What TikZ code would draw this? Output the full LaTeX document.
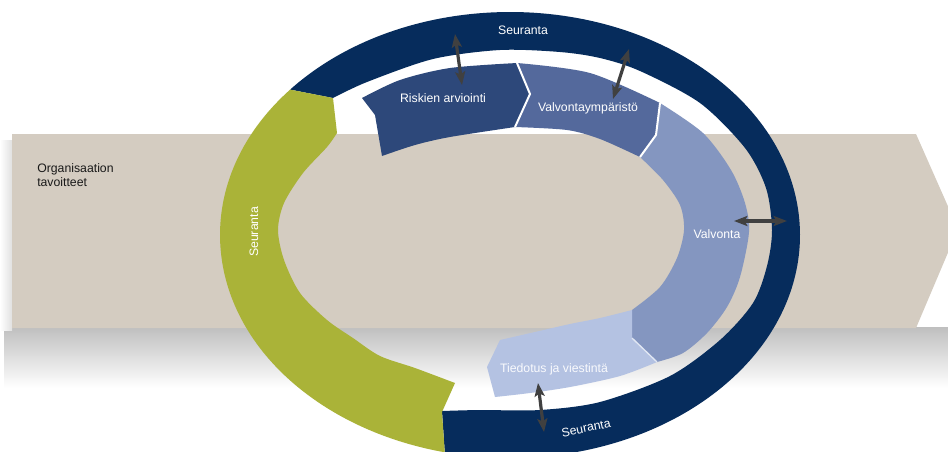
\documentclass[tikz,border=0pt]{standalone}
\usepackage{fontspec}
\setmainfont{Liberation Sans}
\usetikzlibrary{arrows.meta,calc}
\definecolor{bandc}{RGB}{212,204,193}
\definecolor{navyc}{RGB}{6,44,92}
\definecolor{greenc}{RGB}{170,179,56}
\definecolor{segA}{RGB}{45,72,122}
\definecolor{segB}{RGB}{84,105,156}
\definecolor{segC}{RGB}{132,150,192}
\definecolor{segD}{RGB}{180,194,226}
\definecolor{arrc}{RGB}{64,64,64}
\begin{document}
\begin{tikzpicture}[x=0.75pt,y=-0.75pt,
  lbl/.style={text=white,font=\fontsize{9.2}{11}\selectfont,inner sep=0pt},
  orglbl/.style={text=black!90,font=\fontsize{9.2}{11}\selectfont,inner sep=0pt,align=left,anchor=west},
  sepline/.style={draw=white,line width=1.5pt,line join=miter},
  dblarrow/.style={draw=arrc,line width=2.4pt,{Stealth[length=10pt,width=7.5pt,inset=2pt]}-{Stealth[length=10pt,width=7.5pt,inset=2pt]}}]
\useasboundingbox (0,0) rectangle (948,451);
\clip (0,0) rectangle (948,451);
\fill[white] (0,0) rectangle (948,451);
% shadow of the band
\shade[top color=black!25,bottom color=white] (4,327) rectangle (948,388);
\shade[left color=white,right color=black!12] (0,140) rectangle (12,330);
% band (arrow)
\fill[bandc] (12,134) -- (916,134) -- (958,229) -- (916,328) -- (12,328) -- cycle;
% centre of outer ring
\coordinate (O) at (510,235);
% navy ring
\fill[navyc] ($(O)+(-139.3:290 and 223)$) arc[start angle=-139.3,end angle=103,x radius=290,y radius=223]
  -- (442,411) -- plot[smooth] coordinates {(442,411) (480,410) (540,410) (600,402) (670,376) (720,340) (753,303) (767,266) (772,230) (766,188) (745,148) (700,103) (640,71) (600,58) (560,52) (500,50) (433,59) (367,82) (333,98)} -- cycle;
% green arc
\fill[greenc] ($(O)+(-139.3:290 and 223)$) arc[start angle=-139.3,end angle=-257,x radius=290,y radius=223]
  -- (442,412) -- (455,383) -- plot[smooth] coordinates {(455,383) (415,368) (380,356) (353,338) (327,320) (300,293) (284,260) (278,230) (284,203) (303,173) (327,147) (337,133)} -- (333,98) -- cycle;
% segments
\fill[segA] (362,98) -- plot[smooth] coordinates {(362,98) (400,80) (450,68) (517,63)} -- (530,94) -- (515,127)
  -- plot[smooth] coordinates {(515,127) (450,137) (415,145) (382,156)} -- (375,115) -- cycle;
\fill[segB] (517,63) -- plot[smooth] coordinates {(517,63) (590,73) (660,103)} -- (656,135) -- (640,157)
  -- plot[smooth] coordinates {(640,157) (600,139) (567,130) (515,127)} -- (530,94) -- cycle;
\fill[segC] (660,103) -- plot[smooth] coordinates {(660,103) (703,133) (731,170) (745,203) (749,232) (740,277) (727,307) (707,333) (683,353) (657,362)} -- (632,338) -- (632,310)
  -- plot[smooth] coordinates {(632,310) (660,287) (677,258) (684,230) (680,205) (663,180) (640,157)} -- (656,135) -- cycle;
\fill[segD] (657,362) -- plot[smooth] coordinates {(657,362) (620,376) (570,387) (530,393) (495,397)} -- (487,367) -- (500,340)
  -- plot[smooth] coordinates {(500,340) (535,332) (570,324) (600,318) (632,310)} -- (632,338) -- cycle;
% separators
\draw[sepline] (517,63) -- (530,94) -- (515,127);
\draw[sepline] (660,103) -- (656,135) -- (640,157);
\draw[draw=white!60!segD,line width=1pt] (632,338) -- (657,362);
% arrows
\coordinate (a1s) at (455,34);  \coordinate (a1e) at (462,85);
\coordinate (a2s) at (629,49);  \coordinate (a2e) at (613,99);
\coordinate (a3s) at (734,221); \coordinate (a3e) at (787,221);
\coordinate (a4s) at (538,383); \coordinate (a4e) at (544,432);
\draw[dblarrow] (a1s) -- (a1e);
\draw[dblarrow] (a2s) -- (a2e);
\draw[dblarrow] (a3s) -- (a3e);
\draw[dblarrow] (a4s) -- (a4e);
% labels
\node[lbl] (risk) at (443,98) {Riskien arviointi};
\node[lbl] (valy) at (588,108) {Valvontaympäristö};
\node[lbl] (valv) at (717,234) {Valvonta};
\node[lbl,text=white!92!segD] (tied) at (554,369) {Tiedotus ja viestintä};
\node[lbl] (seur1) at (523,30) {Seuranta};
\node[lbl,rotate=12] (seur2) at (586,428) {Seuranta};
\node[lbl,rotate=90] (seur3) at (254,232) {Seuranta};
\node[orglbl] (org) at (37,175) {Organisaation\\tavoitteet};
\end{tikzpicture}
\end{document}
